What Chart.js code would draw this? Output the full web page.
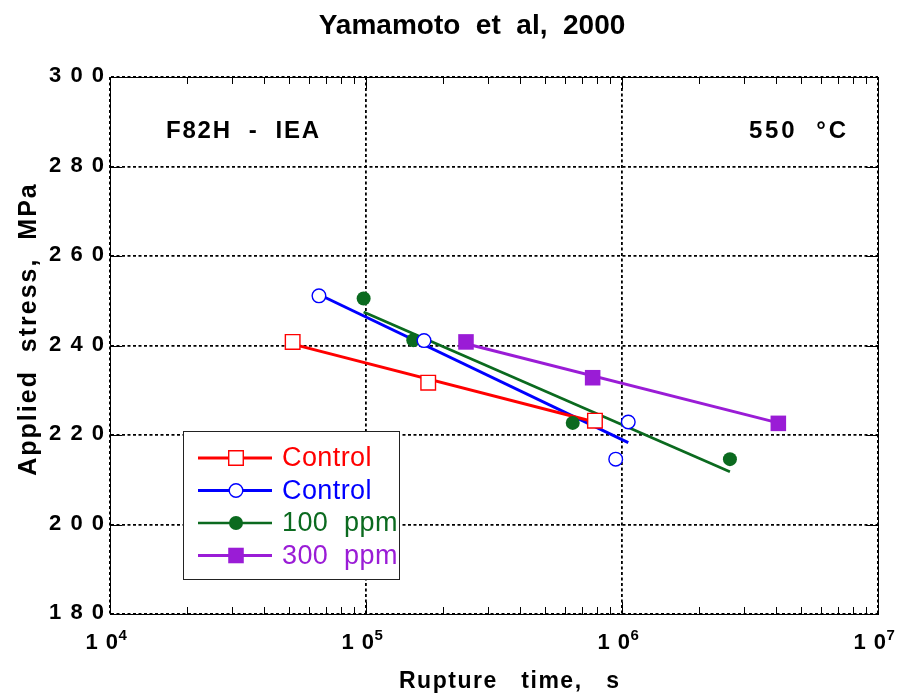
<!DOCTYPE html>
<html><head><meta charset="utf-8">
<script src="https://cdn.jsdelivr.net/npm/chart.js@4/dist/chart.umd.min.js"></script>
<style>html,body{margin:0;padding:0;background:#fff}#wrap{width:900px;height:693px}</style>
</head><body><div id="wrap"><canvas id="c" width="900" height="693"></canvas></div>
<script>
// ---- data ----
const titleText = 'Yamamoto  et  al,  2000';
const xTitle = 'Rupture   time,   s';
const yTitle = 'Applied  stress,  MPa';
const leftNote = 'F82H  -  IEA';
const rightNote = '550  °C';
const xDecades = [1e4, 1e5, 1e6, 1e7];
const xExponents = ['4', '5', '6', '7'];
const yTicks = [180, 200, 220, 240, 260, 280, 300];
const seriesNames = ['Control', 'Control', '100  ppm', '300  ppm'];
const seriesColors = ['#ff0000', '#0000ff', '#0b6a1f', '#9a1cd6'];

const redX = [51700, 175000, 784000];
const redY = [240.8, 231.7, 223.2];
const blueX = [65500, 168500, 1058000, 945000];
const blueY = [251.1, 241.1, 222.9, 214.6];
const greenX = [97900, 153000, 642000, 2640000];
const greenY = [250.5, 241.2, 222.7, 214.6];
const purpleX = [245800, 768000, 4080000];
const purpleY = [240.8, 232.8, 222.6];

// fitted lines (end points)
const redFitX = [51700, 784000];
const redFitY = [240.3, 222.9];
const blueFitX = [65500, 1058000];
const blueFitY = [251.4, 218.3];
const greenFitX = [97900, 2640000];
const greenFitY = [247.5, 211.8];
const purpleFitX = [245800, 4080000];
const purpleFitY = [240.4, 222.7];

const pts = (xs, ys) => xs.map((x, i) => ({x, y: ys[i]}));

const markerStyles = [
  {pointStyle: 'rect', radius: 10.3, fill: '#ffffff'},
  {pointStyle: 'circle', radius: 6.8, fill: '#ffffff'},
  {pointStyle: 'circle', radius: 7.0, fill: null},
  {pointStyle: 'rect', radius: 11.0, fill: null}
];
const lineWidths = [3, 3, 2.7, 3];

const markerData = [pts(redX, redY), pts(blueX, blueY), pts(greenX, greenY), pts(purpleX, purpleY)];
const fitData = [pts(redFitX, redFitY), pts(blueFitX, blueFitY), pts(greenFitX, greenFitY), pts(purpleFitX, purpleFitY)];

const datasets = [];
fitData.forEach((d, i) => datasets.push({
  label: seriesNames[i] + ' fit', data: d, showLine: true, borderColor: seriesColors[i],
  borderWidth: lineWidths[i], pointRadius: 0, order: 2, xAxisID: 'x', yAxisID: 'y'
}));
markerData.forEach((d, i) => datasets.push({
  label: seriesNames[i], data: d, showLine: false,
  pointStyle: markerStyles[i].pointStyle, pointRadius: markerStyles[i].radius,
  pointBorderColor: seriesColors[i], pointBackgroundColor: markerStyles[i].fill || seriesColors[i],
  pointBorderWidth: markerStyles[i].fill ? 1.4 : 0, order: 1, xAxisID: 'x', yAxisID: 'y'
}));

function txt(ctx, s, x, y, font, color, align, base, spacing) {
  ctx.save();
  ctx.font = font; ctx.fillStyle = color; ctx.textAlign = align; ctx.textBaseline = base;
  const sp = spacing || 0;
  if ('letterSpacing' in ctx) ctx.letterSpacing = sp + 'px';
  let dx = 0;
  if (align === 'right') dx = sp; else if (align === 'center') dx = sp / 2;
  ctx.fillText(s, x + dx, y);
  ctx.restore();
}

const FONT = '"Liberation Sans", Arial, Helvetica, sans-serif';

const deco = {
  id: 'deco',
  afterDatasetsDraw(chart) {
    const ctx = chart.ctx, a = chart.chartArea;
    const xs = chart.scales.x, ys = chart.scales.y;
    ctx.save();
    ctx.strokeStyle = '#000'; ctx.lineWidth = 1; ctx.setLineDash([]);
    ctx.beginPath();
    for (let d = 0; d < xDecades.length - 1; d++) {
      for (let m = 2; m <= 9; m++) {
        const px = Math.round(xs.getPixelForValue(xDecades[d] * m)) + 0.5;
        ctx.moveTo(px, a.bottom); ctx.lineTo(px, a.bottom - 7);
        ctx.moveTo(px, a.top); ctx.lineTo(px, a.top + 7);
      }
    }
    xDecades.forEach(v => {
      const px = Math.round(xs.getPixelForValue(v)) + 0.5;
      ctx.moveTo(px, a.bottom); ctx.lineTo(px, a.bottom - 12);
      ctx.moveTo(px, a.top); ctx.lineTo(px, a.top + 12);
    });
    yTicks.forEach(v => {
      const py = Math.round(ys.getPixelForValue(v)) + 0.5;
      ctx.moveTo(a.left, py); ctx.lineTo(a.left + 12, py);
      ctx.moveTo(a.right, py); ctx.lineTo(a.right - 12, py);
    });
    ctx.stroke();
    ctx.restore();

    txt(ctx, leftNote, 166, 138, 'bold 24px ' + FONT, '#000', 'left', 'alphabetic', 1.8);
    txt(ctx, rightNote, 846, 138, 'bold 24px ' + FONT, '#000', 'right', 'alphabetic', 2.8);

    // legend box
    const L = 183, T = 431, R = 399, B = 579;
    ctx.save();
    ctx.fillStyle = '#fff';
    ctx.fillRect(L, T, R - L, B - T);
    ctx.strokeStyle = '#222'; ctx.lineWidth = 1;
    ctx.strokeRect(L + 0.5, T + 0.5, R - L, B - T);
    ctx.restore();
    const rows = [458, 490.5, 523, 555.5];
    seriesNames.forEach((name, i) => {
      const y = rows[i];
      ctx.save();
      ctx.strokeStyle = seriesColors[i]; ctx.lineWidth = lineWidths[i];
      ctx.beginPath(); ctx.moveTo(198, y); ctx.lineTo(272, y); ctx.stroke();
      ctx.restore();
      const ms = markerStyles[i];
      ctx.save();
      ctx.fillStyle = ms.fill || seriesColors[i];
      ctx.strokeStyle = seriesColors[i];
      ctx.lineWidth = 1.4;
      ctx.beginPath();
      if (ms.pointStyle === 'rect') {
        const s = ms.radius * Math.SQRT1_2;
        ctx.rect(236 - s, y - s, 2 * s, 2 * s);
      } else {
        ctx.arc(236, y, ms.radius, 0, Math.PI * 2);
      }
      ctx.fill();
      if (ms.fill) ctx.stroke();
      ctx.restore();
      txt(ctx, name, 282, y + 1, '27px ' + FONT, seriesColors[i], 'left', 'middle', 0.4);
    });
  },
  afterDraw(chart) {
    const ctx = chart.ctx;
    const xs = chart.scales.x, ys = chart.scales.y;
    txt(ctx, titleText, 472, 34, 'bold 28px ' + FONT, '#000', 'center', 'alphabetic', 0);
    yTicks.forEach(v => {
      const py = ys.getPixelForValue(v);
      txt(ctx, String(v).split('').join(' '), 104, py + 5, 'bold 22px ' + FONT, '#000', 'right', 'alphabetic', 1.5);
    });
    xDecades.forEach((v, i) => {
      const px = xs.getPixelForValue(v);
      const right = px + 8;
      txt(ctx, '1 0', right, 649, 'bold 22px ' + FONT, '#000', 'right', 'alphabetic', 1);
      txt(ctx, xExponents[i], right + 0.5, 640, 'bold 15px ' + FONT, '#000', 'left', 'alphabetic', 0);
    });
    txt(ctx, xTitle, 509, 688, 'bold 23px ' + FONT, '#000', 'center', 'alphabetic', 1.5);
    ctx.save();
    ctx.translate(36, 330);
    ctx.rotate(-Math.PI / 2);
    txt(ctx, yTitle, 0, 0, 'bold 25px ' + FONT, '#000', 'center', 'alphabetic', 2);
    ctx.restore();
  }
};

const gridStyle = {display: true, color: '#000', lineWidth: 1.8, drawTicks: false};

new Chart(document.getElementById('c'), {
  type: 'scatter',
  data: {datasets},
  options: {
    responsive: false, animation: false, devicePixelRatio: 1,
    layout: {padding: {left: 110, right: 22, top: 77, bottom: 79}},
    plugins: {legend: {display: false}, tooltip: {enabled: false}, title: {display: false}},
    scales: {
      x: {
        type: 'logarithmic', position: 'bottom', min: 1e4, max: 1e7,
        afterBuildTicks: s => { s.ticks = xDecades.map(v => ({value: v})); },
        ticks: {display: false},
        grid: {...gridStyle},
        border: {display: true, color: '#000', width: 1, dash: [3, 2.5]},
        afterFit: s => { s.height = 0; }
      },
      x2: {
        type: 'logarithmic', position: 'top', min: 1e4, max: 1e7,
        ticks: {display: false}, grid: {display: false, drawTicks: false},
        border: {display: true, color: '#000', width: 1},
        afterFit: s => { s.height = 0; }
      },
      y: {
        type: 'linear', position: 'left', min: 180, max: 300,
        afterBuildTicks: s => { s.ticks = yTicks.map(v => ({value: v})); },
        ticks: {display: false},
        grid: {...gridStyle},
        border: {display: true, color: '#000', width: 1, dash: [3, 2.5]},
        afterFit: s => { s.width = 0; }
      },
      y2: {
        type: 'linear', position: 'right', min: 180, max: 300,
        ticks: {display: false}, grid: {display: false, drawTicks: false},
        border: {display: true, color: '#000', width: 1},
        afterFit: s => { s.width = 0; }
      }
    }
  },
  plugins: [deco]
});
</script>
</body></html>
